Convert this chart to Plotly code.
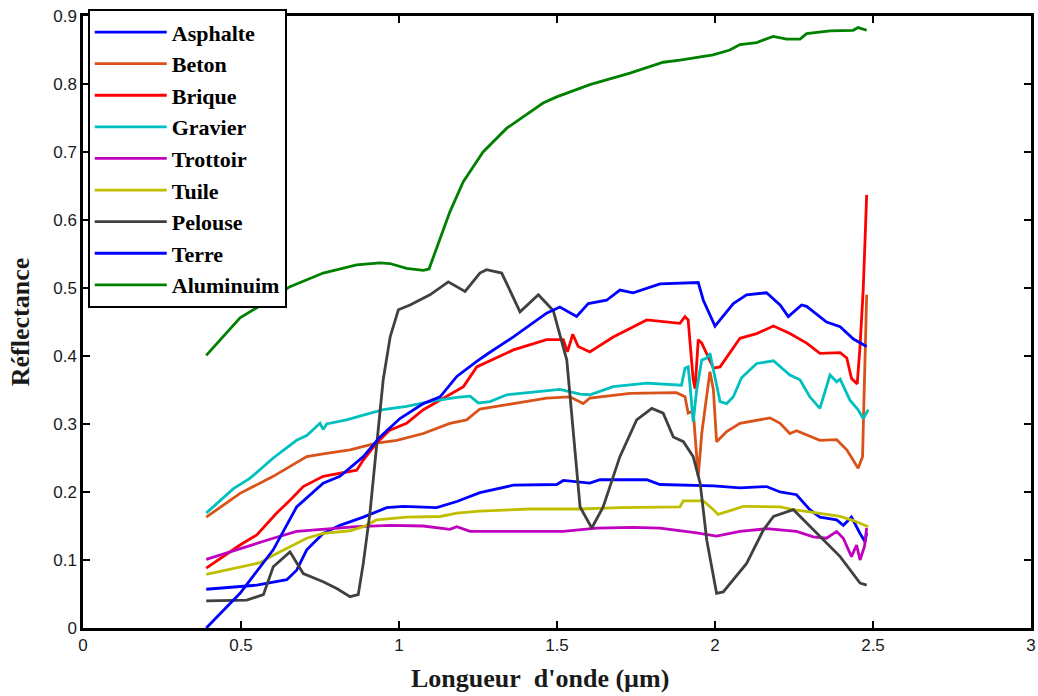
import plotly.graph_objects as go

# ---- data (wavelength in µm, reflectance) ----
names = ["Asphalte", "Beton", "Brique", "Gravier", "Trottoir", "Tuile", "Pelouse", "Terre", "Aluminuim"]
colors = ["#0000FF", "#D95319", "#FF0000", "#00BFBF", "#BF00BF", "#BFBF00", "#404040", "#0000FF", "#008000"]

asphalte_x = [0.39, 0.55, 0.645, 0.676, 0.708, 0.76, 0.813, 0.887, 0.961, 1.014, 1.119, 1.183, 1.256, 1.362, 1.499, 1.52, 1.604, 1.636, 1.784, 1.826, 1.995, 2.079, 2.163, 2.206, 2.258, 2.30, 2.332, 2.385, 2.406, 2.432, 2.459, 2.475, 2.48]
asphalte_y = [0.057, 0.063, 0.071, 0.085, 0.115, 0.139, 0.151, 0.163, 0.177, 0.179, 0.177, 0.186, 0.199, 0.210, 0.211, 0.217, 0.213, 0.218, 0.218, 0.211, 0.209, 0.206, 0.208, 0.200, 0.196, 0.174, 0.163, 0.159, 0.151, 0.163, 0.139, 0.127, 0.140]

beton_x = [0.39, 0.497, 0.602, 0.708, 0.76, 0.845, 0.929, 0.993, 1.077, 1.161, 1.214, 1.256, 1.362, 1.467, 1.541, 1.583, 1.604, 1.731, 1.878, 1.905, 1.915, 1.931, 1.947, 1.958, 1.984, 1.995, 2.005, 2.037, 2.079, 2.142, 2.174, 2.206, 2.237, 2.258, 2.332, 2.385, 2.417, 2.453, 2.467, 2.47, 2.476, 2.48]
beton_y = [0.163, 0.198, 0.223, 0.252, 0.256, 0.262, 0.272, 0.276, 0.286, 0.301, 0.306, 0.322, 0.330, 0.338, 0.340, 0.330, 0.338, 0.345, 0.346, 0.340, 0.316, 0.319, 0.223, 0.286, 0.377, 0.350, 0.274, 0.289, 0.301, 0.306, 0.309, 0.301, 0.286, 0.290, 0.276, 0.277, 0.262, 0.235, 0.252, 0.310, 0.414, 0.490]

brique_x = [0.39, 0.497, 0.55, 0.613, 0.655, 0.697, 0.76, 0.813, 0.866, 0.887, 0.929, 0.971, 1.024, 1.077, 1.13, 1.204, 1.246, 1.288, 1.362, 1.467, 1.52, 1.533, 1.55, 1.567, 1.604, 1.678, 1.784, 1.889, 1.905, 1.915, 1.931, 1.937, 1.947, 1.958, 1.995, 2.016, 2.079, 2.132, 2.185, 2.237, 2.29, 2.332, 2.396, 2.417, 2.432, 2.45, 2.459, 2.469, 2.475, 2.48]
brique_y = [0.088, 0.122, 0.137, 0.169, 0.188, 0.208, 0.223, 0.228, 0.232, 0.247, 0.272, 0.291, 0.301, 0.321, 0.335, 0.355, 0.384, 0.393, 0.409, 0.424, 0.424, 0.406, 0.432, 0.414, 0.406, 0.428, 0.453, 0.448, 0.458, 0.453, 0.365, 0.352, 0.424, 0.419, 0.382, 0.384, 0.426, 0.433, 0.444, 0.433, 0.419, 0.404, 0.405, 0.397, 0.367, 0.359, 0.414, 0.497, 0.561, 0.637]

gravier_x = [0.39, 0.476, 0.528, 0.602, 0.676, 0.708, 0.75, 0.76, 0.771, 0.834, 0.887, 0.95, 1.024, 1.109, 1.183, 1.225, 1.251, 1.288, 1.341, 1.415, 1.509, 1.573, 1.604, 1.678, 1.784, 1.894, 1.905, 1.915, 1.92, 1.931, 1.942, 1.958, 1.974, 1.984, 2.016, 2.037, 2.058, 2.084, 2.132, 2.185, 2.237, 2.269, 2.30, 2.332, 2.364, 2.385, 2.396, 2.427, 2.453, 2.469, 2.485]
gravier_y = [0.169, 0.205, 0.220, 0.250, 0.276, 0.283, 0.301, 0.292, 0.300, 0.306, 0.313, 0.321, 0.326, 0.334, 0.339, 0.341, 0.331, 0.333, 0.343, 0.347, 0.351, 0.344, 0.343, 0.355, 0.360, 0.357, 0.382, 0.384, 0.362, 0.303, 0.350, 0.394, 0.397, 0.404, 0.333, 0.330, 0.340, 0.368, 0.389, 0.393, 0.372, 0.365, 0.340, 0.323, 0.372, 0.362, 0.366, 0.335, 0.321, 0.308, 0.321]

trottoir_x = [0.39, 0.497, 0.602, 0.676, 0.76, 0.866, 0.971, 1.077, 1.161, 1.183, 1.225, 1.52, 1.625, 1.741, 1.826, 1.942, 2.005, 2.079, 2.163, 2.258, 2.311, 2.353, 2.385, 2.406, 2.432, 2.448, 2.459, 2.473, 2.48]
trottoir_y = [0.101, 0.117, 0.132, 0.142, 0.145, 0.149, 0.151, 0.150, 0.145, 0.149, 0.142, 0.142, 0.147, 0.148, 0.147, 0.140, 0.135, 0.142, 0.146, 0.142, 0.134, 0.132, 0.142, 0.132, 0.105, 0.122, 0.100, 0.120, 0.147]

tuile_x = [0.39, 0.497, 0.56, 0.602, 0.655, 0.708, 0.76, 0.845, 0.887, 0.929, 1.024, 1.13, 1.183, 1.256, 1.415, 1.573, 1.699, 1.889, 1.90, 1.963, 1.995, 2.01, 2.058, 2.09, 2.206, 2.248, 2.311, 2.353, 2.396, 2.438, 2.485]
tuile_y = [0.079, 0.090, 0.096, 0.107, 0.120, 0.132, 0.139, 0.143, 0.149, 0.159, 0.163, 0.164, 0.169, 0.172, 0.175, 0.175, 0.177, 0.178, 0.187, 0.187, 0.174, 0.167, 0.174, 0.179, 0.178, 0.174, 0.170, 0.167, 0.164, 0.158, 0.149]

pelouse_x = [0.39, 0.518, 0.571, 0.602, 0.655, 0.697, 0.76, 0.803, 0.845, 0.871, 0.887, 0.908, 0.929, 0.95, 0.972, 0.998, 1.035, 1.098, 1.156, 1.209, 1.256, 1.277, 1.325, 1.383, 1.441, 1.488, 1.531, 1.552, 1.573, 1.61, 1.646, 1.699, 1.752, 1.80, 1.836, 1.868, 1.90, 1.931, 1.953, 1.974, 2.005, 2.026, 2.079, 2.10, 2.153, 2.185, 2.248, 2.29, 2.396, 2.459, 2.48]
pelouse_y = [0.040, 0.041, 0.049, 0.090, 0.112, 0.080, 0.068, 0.058, 0.046, 0.049, 0.095, 0.169, 0.267, 0.365, 0.428, 0.468, 0.475, 0.490, 0.509, 0.495, 0.522, 0.527, 0.522, 0.465, 0.490, 0.467, 0.394, 0.286, 0.178, 0.147, 0.178, 0.252, 0.306, 0.323, 0.316, 0.281, 0.274, 0.252, 0.213, 0.129, 0.051, 0.053, 0.083, 0.095, 0.144, 0.164, 0.174, 0.154, 0.105, 0.066, 0.063]

terre_x = [0.39, 0.497, 0.602, 0.676, 0.76, 0.813, 0.887, 0.94, 1.003, 1.077, 1.13, 1.183, 1.246, 1.283, 1.362, 1.415, 1.467, 1.509, 1.562, 1.599, 1.657, 1.699, 1.741, 1.826, 1.889, 1.947, 1.963, 2.0, 2.058, 2.10, 2.163, 2.206, 2.232, 2.274, 2.29, 2.353, 2.396, 2.438, 2.48]
terre_y = [0.0, 0.051, 0.115, 0.178, 0.213, 0.223, 0.252, 0.281, 0.308, 0.330, 0.340, 0.370, 0.392, 0.404, 0.428, 0.446, 0.463, 0.472, 0.458, 0.477, 0.482, 0.497, 0.493, 0.506, 0.507, 0.508, 0.482, 0.444, 0.477, 0.490, 0.493, 0.475, 0.458, 0.475, 0.473, 0.450, 0.443, 0.425, 0.414]

alu_x = [0.39, 0.497, 0.55, 0.655, 0.76, 0.866, 0.94, 0.971, 1.024, 1.077, 1.095, 1.12, 1.13, 1.161, 1.203, 1.266, 1.341, 1.456, 1.499, 1.604, 1.731, 1.836, 1.889, 1.994, 2.047, 2.079, 2.132, 2.184, 2.227, 2.269, 2.29, 2.364, 2.437, 2.453, 2.48]
alu_y = [0.401, 0.456, 0.471, 0.502, 0.522, 0.534, 0.537, 0.536, 0.529, 0.526, 0.528, 0.559, 0.571, 0.612, 0.656, 0.700, 0.735, 0.772, 0.781, 0.799, 0.816, 0.832, 0.835, 0.843, 0.850, 0.858, 0.861, 0.870, 0.866, 0.866, 0.874, 0.878, 0.879, 0.883, 0.879]

xs = [asphalte_x, beton_x, brique_x, gravier_x, trottoir_x, tuile_x, pelouse_x, terre_x, alu_x]
ys = [asphalte_y, beton_y, brique_y, gravier_y, trottoir_y, tuile_y, pelouse_y, terre_y, alu_y]

x_tickvals = [0, 0.5, 1, 1.5, 2, 2.5, 3]
x_ticktext = ["0", "0.5", "1", "1.5", "2", "2.5", "3"]
y_tickvals = [0, 0.1, 0.2, 0.3, 0.4, 0.5, 0.6, 0.7, 0.8, 0.9]
y_ticktext = ["0", "0.1", "0.2", "0.3", "0.4", "0.5", "0.6", "0.7", "0.8", "0.9"]
x_title = "Longueur\u00a0 d'onde (µm)"
y_title = "Réflectance"

fig = go.Figure()
for n, c, x, y in zip(names, colors, xs, ys):
    fig.add_trace(go.Scatter(x=x, y=y, mode="lines", name=n,
                             line=dict(color=c, width=2.8)))

tickfont = dict(family="Liberation Sans, Arial, sans-serif", size=17, color="#1a1a1a")
titlefont = dict(family="Liberation Serif, Times New Roman, serif", size=26, color="#1a1a1a", weight="bold")
axis_common = dict(showgrid=False, zeroline=False, showline=True, linecolor="black", linewidth=2.5,
                   mirror="allticks", ticks="inside", ticklen=7, tickwidth=2, tickcolor="black",
                   tickfont=tickfont, automargin=False, ticklabeloverflow="allow")

fig.update_layout(
    width=1038, height=696,
    margin=dict(l=83, r=7, t=16, b=68),
    paper_bgcolor="white", plot_bgcolor="white",
    xaxis=dict(range=[0, 3], tickvals=x_tickvals, ticktext=x_ticktext, **axis_common),
    yaxis=dict(range=[0, 0.9], tickvals=y_tickvals, ticktext=y_ticktext,
               title=dict(text=y_title, font=titlefont, standoff=17),
               **axis_common),
    legend=dict(x=0.005, y=1.011, xanchor="left", yanchor="top",
                bgcolor="white", bordercolor="black", borderwidth=2,
                font=dict(family="Liberation Serif, Times New Roman, serif", size=22, color="black", weight="bold"),
                itemwidth=72, tracegroupgap=0),
    showlegend=True,
    annotations=[dict(text=x_title, xref="paper", yref="paper", x=0.482, y=-0.083,
                      xanchor="center", yanchor="middle", showarrow=False, font=titlefont)],
)

fig.write_html("out.html", config={"displayModeBar": False},
               post_script="document.body.style.margin='0';")
